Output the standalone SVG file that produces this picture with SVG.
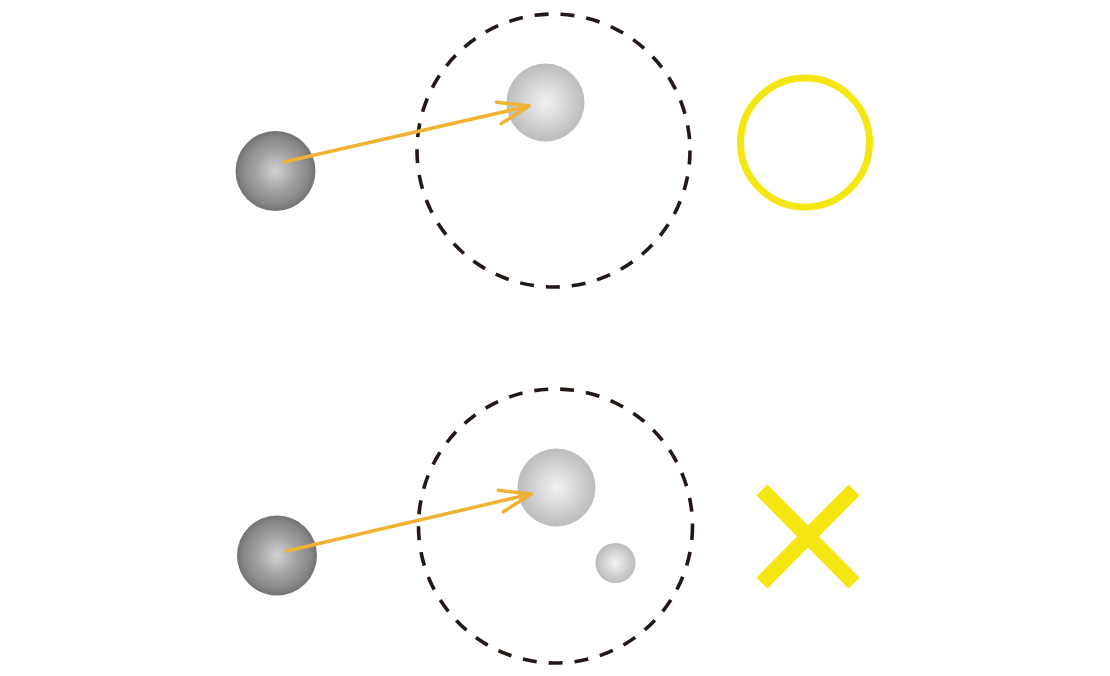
<svg xmlns="http://www.w3.org/2000/svg" width="1110" height="676" viewBox="0 0 1110 676">
<style>
.dash{fill:none;stroke:#231815;stroke-width:3.6;stroke-dasharray:14 12}
.arrow{fill:none;stroke:#F0B232;stroke-width:3.5;stroke-linecap:round}
.dark{fill:url(#gDark)}
.light{fill:url(#gLight)}
.yel{fill:none;stroke:#F5E611}
</style>
<defs>
<radialGradient id="gDark" cx="0.5" cy="0.5" r="0.5">
<stop offset="0" stop-color="#d2d2d2"/>
<stop offset="0.5" stop-color="#a2a2a2"/>
<stop offset="0.85" stop-color="#868686"/>
<stop offset="1" stop-color="#727272"/>
</radialGradient>
<radialGradient id="gLight" cx="0.5" cy="0.5" r="0.5">
<stop offset="0" stop-color="#f2f2f2"/>
<stop offset="1" stop-color="#bcbcbc"/>
</radialGradient>
<marker id="chev" markerUnits="userSpaceOnUse" markerWidth="40" markerHeight="30" viewBox="-34 -15 40 30" refX="0" refY="0" orient="auto">
<path d="M-31,-11 L0,0 L-31,11" fill="none" stroke="#F0B232" stroke-width="3.5" stroke-linecap="round" stroke-linejoin="round"/>
</marker>
</defs>
<rect width="1110" height="676" fill="#fff"/>
<g id="top-region"><circle class="dash" cx="553.5" cy="150.5" r="136.5"/></g>
<g id="top-source"><circle class="dark" cx="275.5" cy="171" r="40"/></g>
<g id="top-target"><circle class="light" cx="545.5" cy="102.5" r="39"/></g>
<g id="top-ok"><circle class="yel" cx="805" cy="142.5" r="64.5" stroke-width="7"/></g>
<g id="bottom-region"><circle class="dash" cx="555.5" cy="526" r="137"/></g>
<g id="bottom-source"><circle class="dark" cx="277" cy="555.5" r="40"/></g>
<g id="bottom-target"><circle class="light" cx="556.5" cy="487.5" r="39"/></g>
<g id="bottom-small"><circle class="light" cx="615.5" cy="563" r="20"/></g>
<g id="bottom-ng"><path d="M762,490 L854,583 M854,490 L762,583" stroke="#F5E611" stroke-width="15.5" fill="none"/></g>
<g id="connectors">
<line class="arrow" x1="284" y1="162" x2="529" y2="106" marker-end="url(#chev)"/>
<line class="arrow" x1="287" y1="551" x2="531" y2="494" marker-end="url(#chev)"/>
</g>
</svg>
